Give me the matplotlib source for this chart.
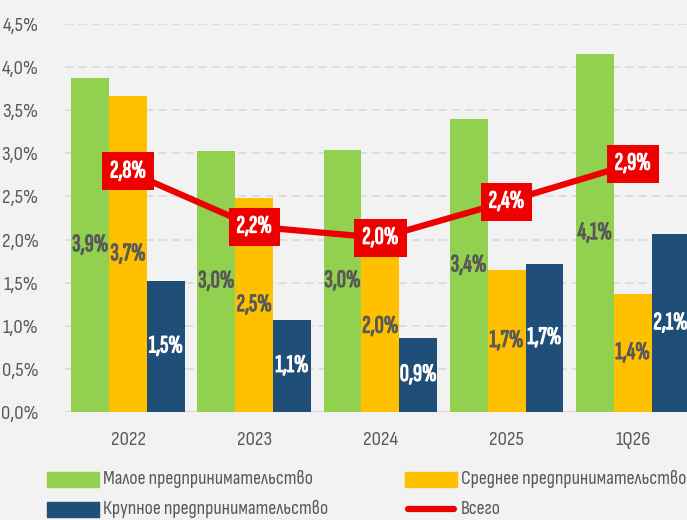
import matplotlib
matplotlib.use("Agg")
import matplotlib.pyplot as plt
from matplotlib.patches import Rectangle
from matplotlib.lines import Line2D
import matplotlib.patheffects as pe

categories = ["2022", "2023", "2024", "2025", "1Q26"]
small = [3.87, 3.03, 3.04, 3.40, 4.15]
medium = [3.66, 2.48, 1.98, 1.65, 1.37]
large = [1.52, 1.07, 0.86, 1.72, 2.06]
total = [2.79, 2.15, 2.02, 2.44, 2.88]
small_lbl = ["3,9%", "3,0%", "3,0%", "3,4%", "4,1%"]
medium_lbl = ["3,7%", "2,5%", "2,0%", "1,7%", "1,4%"]
large_lbl = ["1,5%", "1,1%", "0,9%", "1,7%", "2,1%"]
total_lbl = ["2,8%", "2,2%", "2,0%", "2,4%", "2,9%"]
yticks = [0, 0.5, 1.0, 1.5, 2.0, 2.5, 3.0, 3.5, 4.0, 4.5]
ytick_lbl = ["0,0%", "0,5%", "1,0%", "1,5%", "2,0%", "2,5%", "3,0%", "3,5%", "4,0%", "4,5%"]
legend_names = ["Малое предпринимательство", "Среднее предпринимательство",
                "Крупное предпринимательство", "Всего"]

FONT = "Sofia Sans Condensed"
LFONT = ["Sofia Sans Extra Condensed", "DejaVu Sans"]
plt.rcParams['font.family'] = [FONT, 'DejaVu Sans']

GREEN = "#92D050"
YELLOW = "#FFC000"
BLUE = "#1F4E79"
RED = "#EE0000"
BG = "#F2F2F2"
GRAY = "#595959"

W, H = 687, 520
fig = plt.figure(figsize=(W / 100, H / 100), dpi=100, facecolor=BG)
ax = fig.add_axes([65 / W, (H - 412) / H, (W - 65) / W, (412 - 24) / H])
ax.set_facecolor(BG)

x = list(range(len(categories)))
bw = 0.30
xs = [i - bw for i in x]
xm = x
xl = [i + bw for i in x]
ax.bar(xs, small, width=bw, color=GREEN, zorder=2)
ax.bar(xm, medium, width=bw, color=YELLOW, zorder=2)
ax.bar(xl, large, width=bw, color=BLUE, zorder=2)

LFS = 18


def bold(c):
    return [pe.withStroke(linewidth=0.8, foreground=c)]


for xi, v, t in zip(xs, small, small_lbl):
    ax.text(xi, v / 2, t, ha="center", va="center", fontsize=LFS, family=LFONT, color=GRAY,
            zorder=3, path_effects=bold(GRAY))
for xi, v, t in zip(xm, medium, medium_lbl):
    ax.text(xi, v / 2, t, ha="center", va="center", fontsize=LFS, family=LFONT, color=GRAY,
            zorder=3, path_effects=bold(GRAY))
for xi, v, t in zip(xl, large, large_lbl):
    ax.text(xi, v / 2, t, ha="center", va="center", fontsize=LFS, family=LFONT, color="white",
            zorder=3, path_effects=bold("white"))

ax.plot(x, total, color=RED, lw=4.5, zorder=4, solid_capstyle="round")
for xi, v, t in zip(x, total, total_lbl):
    ax.text(xi, v, t, ha="center", va="center", fontsize=LFS, family=LFONT, color="white", zorder=5,
            path_effects=bold("white"),
            bbox=dict(boxstyle="square,pad=0.32", fc=RED, ec="none"))

ax.set_xlim(-0.5, 4.43)
ax.set_ylim(0, 4.5)
ax.set_yticks(yticks)
ax.set_yticklabels(ytick_lbl)
ax.set_xticks(x)
ax.set_xticklabels(categories)
ax.tick_params(axis="both", length=0, labelsize=15, labelcolor=GRAY)
ax.tick_params(axis="y", pad=19)
ax.tick_params(axis="x", pad=14)
ax.grid(axis="y", color="#D9D9D9", linestyle=(0, (5, 3)), lw=1.2, zorder=1)
for s in ax.spines.values():
    s.set_visible(False)
ax.axhline(0, color="#D9D9D9", lw=1.5, zorder=1)

# legend
items = [(47, 479, GREEN, "patch"), (405, 479, YELLOW, "patch"),
         (47, 509, BLUE, "patch"), (405, 509, RED, "line")]
for (px, py, c, kind), name in zip(items, legend_names):
    if kind == "patch":
        fig.patches.append(Rectangle((px / W, (H - py - 7.5) / H), 52 / W, 15 / H,
                                     transform=fig.transFigure, color=c))
    else:
        fig.lines.append(Line2D([(px + 3) / W, (px + 49) / W], [(H - py) / H] * 2,
                                transform=fig.transFigure, color=c, lw=4.5, solid_capstyle="round"))
    fig.text((px + 56) / W, (H - py) / H, name, ha="left", va="center", fontsize=14.3, color=GRAY,
             transform=fig.transFigure)

fig.savefig("out.png", dpi=100, facecolor=BG)
